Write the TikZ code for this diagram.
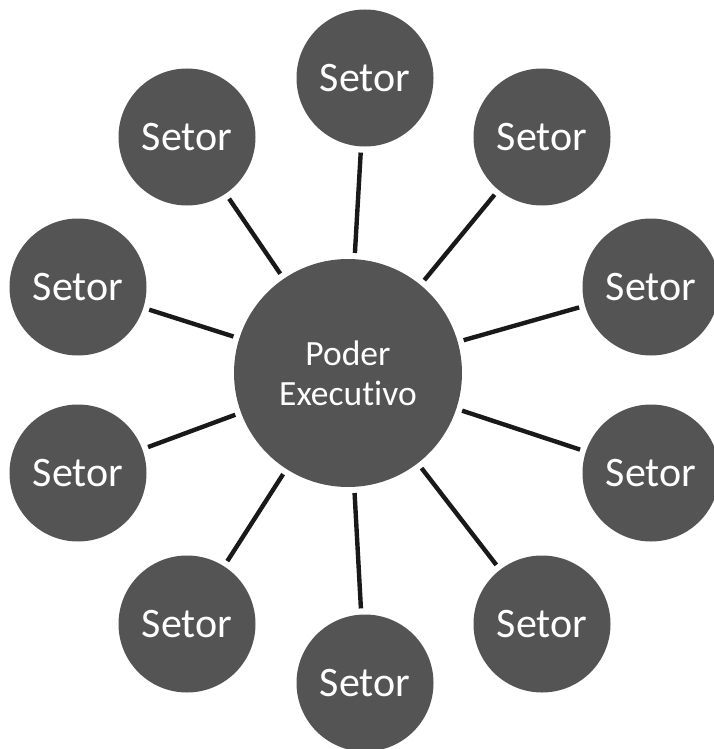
\documentclass[tikz,border=0pt]{standalone}
\usepackage{fontspec}
\setmainfont{Carlito}[Ligatures=NoCommon]
\definecolor{disc}{HTML}{545454}
\begin{document}
\begin{tikzpicture}[x=1pt,y=-1pt,
  sector/.style={circle,fill=disc,text=white,minimum size=137pt,inner sep=0pt,font=\fontsize{42}{42}\selectfont},
  hub/.style={circle,fill=disc,text=white,minimum size=228pt,inner sep=0pt,align=center,font=\fontsize{35.5}{40}\selectfont},
  conn/.style={line width=4.4pt,draw=black!90,shorten >=6pt,shorten <=6pt}]
\useasboundingbox (0,0) rectangle (714,749);
\clip (0,0) rectangle (714,749);
\node[hub] (c) at (348,373) {Poder\\Executivo};
\node[sector] (s1) at (365,78) {Setor};
\node[sector] (s2) at (542,137) {Setor};
\node[sector] (s3) at (651,287) {Setor};
\node[sector] (s4) at (651,473) {Setor};
\node[sector] (s5) at (542,624) {Setor};
\node[sector] (s6) at (365,683) {Setor};
\node[sector] (s7) at (187,624) {Setor};
\node[sector] (s8) at (78,473) {Setor};
\node[sector] (s9) at (78,287) {Setor};
\node[sector] (s10) at (187,137) {Setor};
\foreach \s in {s1,s2,s3,s4,s5,s6,s7,s8,s9,s10}
  \draw[conn] (c) -- (\s);
\end{tikzpicture}
\end{document}
